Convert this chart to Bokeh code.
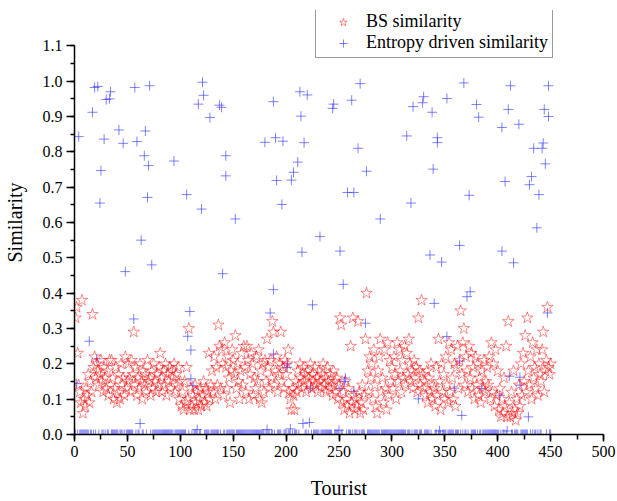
from bokeh.plotting import figure
from bokeh.models import Range1d, SingleIntervalTicker, PrintfTickFormatter, Legend, LegendItem, ColumnDataSource
from bokeh.embed import file_html
from bokeh.resources import INLINE

# ---- data ----
bs_similarity = [
    0.33, 0.36, 0.23, 0.14, 0.12, 0.09, 0.38, 0.06, 0.10, 0.08,
    0.13, 0.11, 0.17, 0.09, 0.15, 0.12, 0.34, 0.19, 0.22, 0.16,
    0.20, 0.18, 0.14, 0.17, 0.21, 0.15, 0.12, 0.19, 0.16, 0.13,
    0.18, 0.11, 0.21, 0.14, 0.21, 0.16, 0.10, 0.13, 0.19, 0.09,
    0.12, 0.17, 0.10, 0.20, 0.14, 0.16, 0.11, 0.22, 0.13, 0.15,
    0.20, 0.16, 0.12, 0.21, 0.17, 0.29, 0.14, 0.19, 0.11, 0.16,
    0.13, 0.20, 0.15, 0.10, 0.18, 0.14, 0.17, 0.12, 0.21, 0.15,
    0.16, 0.11, 0.18, 0.13, 0.20, 0.15, 0.12, 0.17, 0.14, 0.19,
    0.23, 0.16, 0.12, 0.18, 0.14, 0.20, 0.11, 0.17, 0.15, 0.19,
    0.13, 0.18, 0.16, 0.20, 0.12, 0.17, 0.14, 0.19, 0.10, 0.15,
    0.08, 0.12, 0.07, 0.15, 0.09, 0.19, 0.10, 0.30, 0.07, 0.13,
    0.08, 0.11, 0.07, 0.14, 0.09, 0.12, 0.07, 0.10, 0.13, 0.08,
    0.11, 0.15, 0.09, 0.13, 0.08, 0.12, 0.23, 0.10, 0.14, 0.18,
    0.12, 0.22, 0.10, 0.19, 0.14, 0.31, 0.25, 0.13, 0.24, 0.20,
    0.11, 0.26, 0.19, 0.13, 0.22, 0.16, 0.09, 0.18, 0.24, 0.21,
    0.17, 0.28, 0.13, 0.20, 0.15, 0.10, 0.18, 0.23, 0.14, 0.25,
    0.19, 0.12, 0.25, 0.21, 0.10, 0.17, 0.23, 0.20, 0.11, 0.16,
    0.13, 0.22, 0.15, 0.24, 0.10, 0.18, 0.09, 0.20, 0.12, 0.21,
    0.15, 0.27, 0.19, 0.13, 0.21, 0.16, 0.32, 0.29, 0.14, 0.18,
    0.22, 0.12, 0.17, 0.20, 0.29, 0.15, 0.19, 0.13, 0.21, 0.17,
    0.20, 0.24, 0.12, 0.10, 0.07, 0.13, 0.11, 0.07, 0.15, 0.12,
    0.18, 0.14, 0.20, 0.16, 0.13, 0.19, 0.15, 0.17, 0.12, 0.18,
    0.16, 0.14, 0.20, 0.13, 0.17, 0.15, 0.19, 0.14, 0.16, 0.12,
    0.18, 0.15, 0.13, 0.17, 0.20, 0.14, 0.16, 0.12, 0.19, 0.15,
    0.13, 0.17, 0.14, 0.11, 0.18, 0.15, 0.12, 0.16, 0.10, 0.14,
    0.33, 0.31, 0.09, 0.12, 0.07, 0.15, 0.10, 0.08, 0.13, 0.06,
    0.25, 0.09, 0.33, 0.11, 0.07, 0.10, 0.08, 0.32, 0.12, 0.06,
    0.09, 0.14, 0.07, 0.11, 0.27, 0.40, 0.18, 0.12, 0.22, 0.16,
    0.20, 0.10, 0.24, 0.14, 0.08, 0.06, 0.18, 0.22, 0.27, 0.12,
    0.16, 0.09, 0.24, 0.13, 0.07, 0.26, 0.11, 0.21, 0.15, 0.19,
    0.13, 0.22, 0.17, 0.10, 0.26, 0.15, 0.24, 0.18, 0.12, 0.21,
    0.16, 0.25, 0.14, 0.23, 0.17, 0.27, 0.20, 0.15, 0.18, 0.13,
    0.21, 0.16, 0.19, 0.12, 0.33, 0.18, 0.14, 0.38, 0.17, 0.13,
    0.15, 0.11, 0.18, 0.09, 0.16, 0.12, 0.20, 0.10, 0.14, 0.13,
    0.08, 0.19, 0.11, 0.27, 0.15, 0.07, 0.20, 0.12, 0.17, 0.10,
    0.22, 0.14, 0.09, 0.26, 0.12, 0.24, 0.16, 0.10, 0.20, 0.08,
    0.19, 0.25, 0.13, 0.21, 0.35, 0.17, 0.26, 0.30, 0.14, 0.22,
    0.18, 0.12, 0.25, 0.16, 0.23, 0.13, 0.19, 0.10, 0.22, 0.14,
    0.20, 0.11, 0.16, 0.09, 0.18, 0.13, 0.21, 0.12, 0.15, 0.19,
    0.14, 0.22, 0.10, 0.26, 0.12, 0.20, 0.08, 0.24, 0.11, 0.18,
    0.07, 0.13, 0.05, 0.10, 0.06, 0.16, 0.08, 0.25, 0.05, 0.32,
    0.09, 0.05, 0.12, 0.06, 0.18, 0.07, 0.04, 0.10, 0.06, 0.14,
    0.08, 0.20, 0.11, 0.23, 0.15, 0.28, 0.12, 0.33, 0.18, 0.14,
    0.22, 0.10, 0.26, 0.16, 0.19, 0.13, 0.24, 0.11, 0.20, 0.17,
    0.15, 0.24, 0.29, 0.12, 0.18, 0.21, 0.36, 0.19, 0.17, 0.20,
]
bs_tourist = list(range(1, len(bs_similarity) + 1))

# entropy-driven similarity: tourists with a non-zero value
entropy_tourist = [
    2, 4, 14, 17, 19, 21, 22, 24, 25, 28, 30, 33, 34, 42, 46, 48, 56, 57, 59, 62,
    63, 66, 67, 69, 70, 71, 73, 94, 106, 107, 109, 110, 110, 112, 116, 117, 120, 121, 122, 128,
    137, 139, 140, 143, 143, 152, 180, 182, 185, 188, 188, 188, 190, 191, 196, 197, 201, 201, 204, 205,
    207, 211, 213, 214, 215, 216, 217, 220, 222, 223, 225, 232, 244, 245, 250, 251, 251, 254, 255, 256,
    258, 262, 264, 264, 268, 270, 275, 276, 289, 314, 318, 320, 325, 329, 330, 336, 338, 339, 340, 343,
    343, 345, 347, 352, 352, 359, 364, 364, 366, 368, 371, 373, 374, 380, 382, 385, 402, 404, 404, 407,
    409, 410, 411, 412, 415, 420, 421, 421, 429, 430, 432, 434, 437, 439, 442, 443, 444, 445, 447, 448,
    448,
]
entropy_value = [
    0.144, 0.843, 0.264, 0.912, 0.982, 0.214, 0.985, 0.655, 0.747, 0.836, 0.948, 0.950, 0.970, 0.862, 0.824, 0.461, 0.327, 0.982, 0.829, 0.031,
    0.550, 0.789, 0.859, 0.671, 0.761, 0.987, 0.480, 0.774, 0.679, 0.278, 0.348, 0.239, 0.158, 0.139, 0.014, 0.935, 0.638, 0.997, 0.960, 0.897,
    0.932, 0.926, 0.455, 0.789, 0.732, 0.610, 0.827, 0.014, 0.344, 0.228, 0.942, 0.410, 0.840, 0.719, 0.651, 0.830, 0.190, 0.200, 0.016, 0.720,
    0.742, 0.771, 0.970, 0.901, 0.516, 0.031, 0.826, 0.961, 0.034, 0.131, 0.367, 0.560, 0.923, 0.935, 0.012, 0.519, 0.130, 0.425, 0.150, 0.160,
    0.685, 0.946, 0.685, 0.122, 0.810, 0.993, 0.315, 0.745, 0.610, 0.845, 0.655, 0.928, 0.101, 0.939, 0.956, 0.508, 0.912, 0.751, 0.371, 0.840,
    0.826, 0.010, 0.488, 0.951, 0.277, 0.131, 0.535, 0.208, 0.054, 0.995, 0.390, 0.677, 0.404, 0.934, 0.898, 0.130, 0.111, 0.869, 0.519, 0.716,
    0.010, 0.920, 0.165, 0.987, 0.486, 0.878, 0.162, 0.140, 0.050, 0.707, 0.730, 0.810, 0.585, 0.679, 0.810, 0.825, 0.920, 0.766, 0.344, 0.987,
    0.900,
]
# every other tourist has entropy-driven similarity 0
entropy_zero_tourist = [t for t in bs_tourist if t not in set(entropy_tourist)]
entropy_zero_value = [0.0] * len(entropy_zero_tourist)

FONT = "Liberation Serif"

# y range extends a little above 1.1 only to leave room for the legend; axis stops at 1.1
p = figure(width=617, height=501, output_backend="svg", toolbar_location=None,
           x_range=Range1d(0, 500), y_range=Range1d(0, 1.2),
           min_border_left=74, min_border_right=14, min_border_top=10, min_border_bottom=65)
p.outline_line_color = None
p.xgrid.visible = False
p.ygrid.visible = False
p.background_fill_color = "white"

blue_src = ColumnDataSource(dict(x=entropy_tourist + entropy_zero_tourist,
                                 y=entropy_value + entropy_zero_value))
red_src = ColumnDataSource(dict(x=bs_tourist, y=bs_similarity))

r_blue = p.scatter("x", "y", source=blue_src, marker="cross", size=10,
                   line_color="#2f2fff", line_alpha=0.6, line_width=1)
r_red = p.scatter("x", "y", source=red_src, marker="star", size=12,
                  fill_color=None, line_color="#ff0000", line_alpha=0.7, line_width=0.65)

for ax in (p.xaxis[0], p.yaxis[0]):
    ax.axis_line_color = "black"
    ax.axis_line_width = 1.5
    ax.major_tick_line_color = "black"
    ax.major_tick_line_width = 1.5
    ax.minor_tick_line_color = "black"
    ax.minor_tick_line_width = 1.5
    ax.major_tick_in = 0
    ax.minor_tick_in = 0
    ax.major_label_text_font = FONT
    ax.major_label_text_font_size = "16px"
    ax.major_label_text_color = "black"
    ax.axis_label_text_font = FONT
    ax.axis_label_text_font_size = "20px"
    ax.axis_label_text_font_style = "normal"
    ax.axis_label_text_color = "black"

p.xaxis[0].ticker = SingleIntervalTicker(interval=50, num_minor_ticks=2)
p.yaxis[0].ticker = SingleIntervalTicker(interval=0.1, num_minor_ticks=2)
p.yaxis[0].bounds = (0, 1.1)
p.yaxis[0].formatter = PrintfTickFormatter(format="%.1f")
p.xaxis[0].major_tick_out = 7
p.xaxis[0].minor_tick_out = 5
p.yaxis[0].major_tick_out = 8
p.yaxis[0].minor_tick_out = 4
p.xaxis[0].major_label_standoff = 4
p.yaxis[0].major_label_standoff = 4
p.xaxis[0].axis_label = "Tourist"
p.yaxis[0].axis_label = "Similarity"
p.xaxis[0].axis_label_standoff = 17
p.yaxis[0].axis_label_standoff = 14

legend = Legend(items=[LegendItem(label="BS similarity", renderers=[r_red]),
                       LegendItem(label="Entropy driven similarity", renderers=[r_blue])],
                location=(241, 376), orientation="vertical")
legend.label_text_font = FONT
legend.label_text_font_size = "18px"
legend.label_text_color = "black"
legend.padding = 4
legend.margin = 0
legend.spacing = 0
legend.glyph_width = 46
legend.glyph_height = 20
legend.label_height = 20
legend.label_standoff = 0
legend.border_line_color = "#333333"
legend.border_line_width = 1
legend.background_fill_color = "white"
legend.background_fill_alpha = 1
p.add_layout(legend, "center")

open("out.html", "w").write(file_html(p, INLINE))
